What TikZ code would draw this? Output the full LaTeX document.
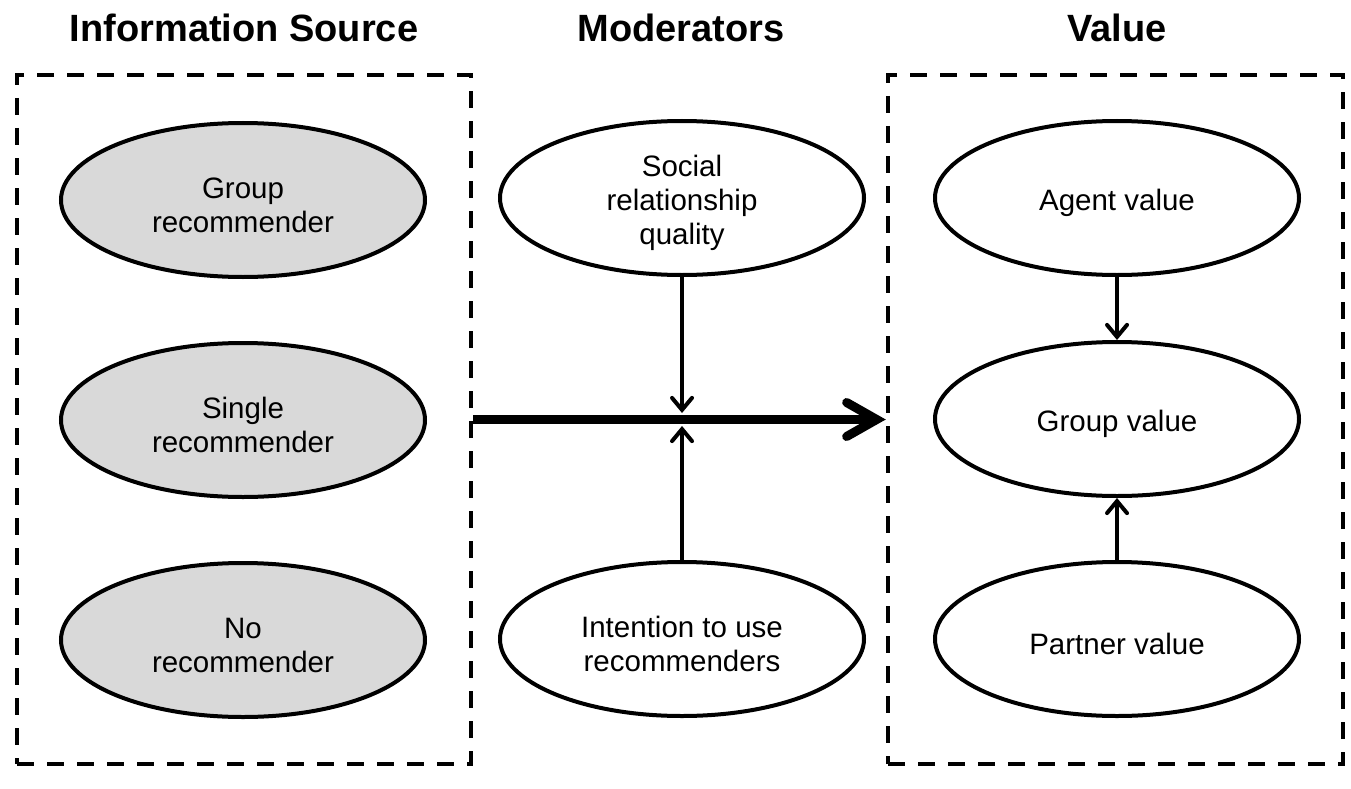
\documentclass[tikz,border=0pt]{standalone}
\usepackage{fontspec}
\setmainfont{Liberation Sans}
\usetikzlibrary{shapes.geometric,arrows.meta}
\definecolor{ellgray}{HTML}{D9D9D9}
\begin{document}
\begin{tikzpicture}[x=1pt,y=-1pt,
  ovaltext/.style={align=center,inner sep=0pt,yshift=-5pt,font=\fontsize{29.5}{34}\selectfont},
  oval/.style={ellipse,draw=black,line width=4pt,minimum width=364pt,minimum height=154pt,inner sep=0pt,label={[ovaltext]center:#1}},
  grayoval/.style={oval={#1},fill=ellgray},
  title/.style={anchor=base,font=\fontsize{38}{44}\selectfont\bfseries},
  dbox/.style={draw=black,line width=4.5pt,dash pattern=on 17pt off 13pt,minimum height=689pt,inner sep=0pt},
  thinarrow/.style={line width=4pt,-{Straight Barb[length=12pt,width=20pt,line cap=round]}},
  thickarrow/.style={line width=9pt,-{Straight Barb[length=30pt,width=34pt,line cap=round]}}
]
\useasboundingbox (0,0) rectangle (1351,789);
% titles
\node[title] (t1) at (244,42) {Information Source};
\node[title] (t2) at (681,42) {Moderators};
\node[title] (t3) at (1117,42) {Value};
% dashed boxes
\node[dbox,minimum width=454pt] (lbox) at (244,419.5) {};
\node[dbox,minimum width=455pt] (rbox) at (1115.5,419.5) {};
% left column
\node[grayoval={Group\\recommender}] (gr) at (243,200) {};
\node[grayoval={Single\\recommender}] (sr) at (243,420) {};
\node[grayoval={No\\recommender}] (nr) at (243,640) {};
% middle column
\node[oval={Social\\relationship\\quality}] (srq) at (682,198) {};
\node[oval={Intention to use\\recommenders}] (itu) at (682,639) {};
% right column
\node[oval={Agent value}] (av) at (1117,198) {};
\node[oval={Group value}] (gv) at (1117,419) {};
\node[oval={Partner value}] (pv) at (1117,639) {};
% connectors
\draw[thickarrow] (lbox.east) -- (rbox.west);
\coordinate (jt) at (682,413);
\coordinate (jb) at (682,426);
\draw[thinarrow] (srq.south) -- (jt);
\draw[thinarrow] (itu.north) -- (jb);
\draw[thinarrow] (av) -- (gv);
\draw[thinarrow] (pv) -- (gv);
\end{tikzpicture}
\end{document}
